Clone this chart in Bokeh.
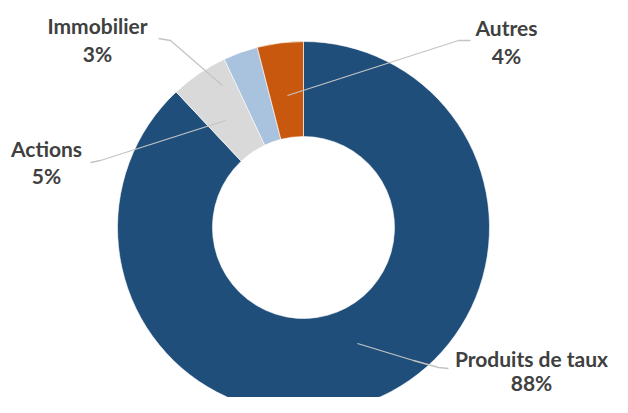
import math
from bokeh.plotting import figure
from bokeh.models import Range1d, ColumnDataSource
from bokeh.core.properties import value
from bokeh.embed import file_html
from bokeh.resources import INLINE

# ---- data ----
categories = ["Produits de taux", "Actions", "Immobilier", "Autres"]
values = [88, 5, 3, 4]
pct_labels = ["88%", "5%", "3%", "4%"]
colors = ["#1F4E7A", "#D9D9D9", "#A9C3DE", "#C9580F"]

# ---- layout (pixel-like coordinates, y measured from the top) ----
W, H = 612, 397
cx, cy = 303, 227
r_out, r_in = 186, 91


def Y(py):
    return -py


# wedge angles: start at 12 o'clock, go clockwise
total = float(sum(values))
starts, ends = [], []
acc = 0.0
for v in values:
    starts.append(math.pi / 2 - 2 * math.pi * acc / total)
    acc += v
    ends.append(math.pi / 2 - 2 * math.pi * acc / total)

src = ColumnDataSource(dict(
    x=[cx] * len(values), y=[Y(cy)] * len(values),
    start=starts, end=ends, color=colors,
))

p = figure(width=W, height=H, output_backend="svg", toolbar_location=None,
           x_range=Range1d(0, W), y_range=Range1d(-H, 0),
           x_axis_location=None, y_axis_location=None, min_border=0,
           outline_line_color=None, background_fill_color="white")
p.grid.visible = False

p.annular_wedge(x="x", y="y", inner_radius=r_in, outer_radius=r_out,
                start_angle="start", end_angle="end", direction="clock",
                fill_color="color", line_color="white", line_width=0.6,
                source=src)

# leader lines (label side -> slice)
leaders = {
    "Produits de taux": [(448, 368), (438, 367), (413, 360), (357, 343)],
    "Actions": [(90, 162), (100, 160), (225, 120)],
    "Immobilier": [(158, 38), (170, 40), (222, 85)],
    "Autres": [(470, 40), (458, 40), (287, 95)],
}
xs = [[pt[0] for pt in leaders[c]] for c in categories]
ys = [[Y(pt[1]) for pt in leaders[c]] for c in categories]
p.multi_line(xs=xs, ys=ys, line_color="#C4C4C4", line_width=1.3)

# label anchors: (center x, baseline of first line) -- baseline compensated
anchors = {
    "Produits de taux": (531, 358),
    "Actions": (46, 148),
    "Immobilier": (97, 25),
    "Autres": (506, 27),
}
gaps = {"Produits de taux": 24, "Actions": 27, "Immobilier": 28, "Autres": 28}
lx = [anchors[c][0] for c in categories]
ly1 = [Y(anchors[c][1]) for c in categories]
ly2 = [Y(anchors[c][1] + gaps[c]) for c in categories]

common = dict(text_font=value("Lato"), text_font_style="bold",
              text_font_size="21px", text_color="#404040",
              text_align="center", text_baseline="alphabetic")
p.text(x=lx, y=ly1, text=categories, **common)
p.text(x=lx, y=ly2, text=pct_labels, **common)

open("out.html", "w").write(file_html(p, INLINE))
